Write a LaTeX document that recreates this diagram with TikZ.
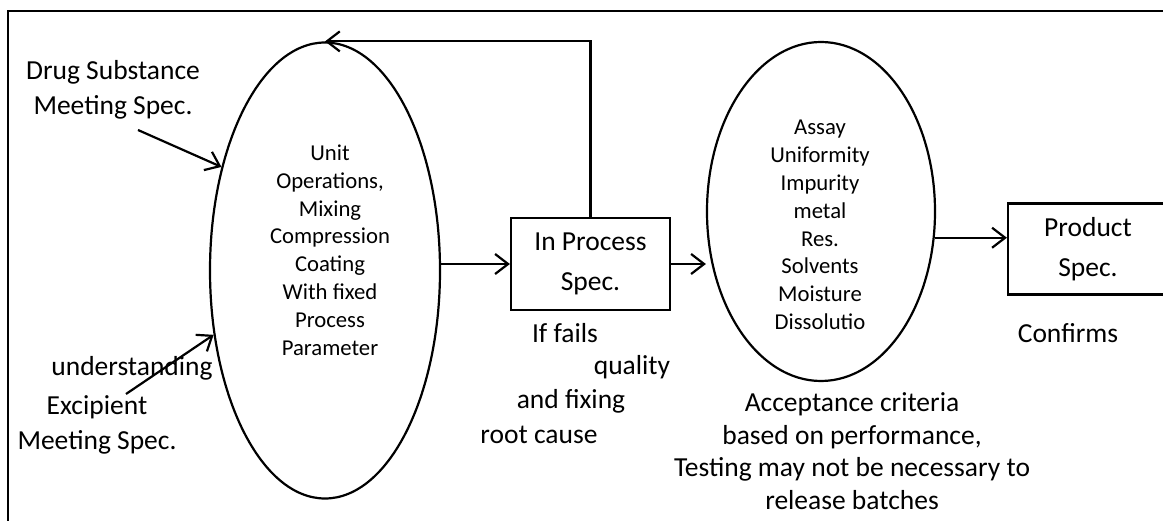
\documentclass[tikz,border=0pt]{standalone}
\usepackage{fontspec}
\setmainfont{Carlito}
\usetikzlibrary{shapes.geometric, arrows.meta, positioning}

\begin{document}
\begin{tikzpicture}[x=1pt, y=-1pt, oval/.style={
        ellipse,
        draw=black,
        line width=2.2pt
    }, spec/.style={
        rectangle,
        draw=black,
        line width=2.2pt,
        align=center,
        font=\fontsize{27.5}{40}\selectfont
    }, label/.style={
        align=center,
        inner sep=0pt,
        font=\fontsize{27.5}{35}\selectfont
    }, small/.style={
        align=center,
        inner sep=0pt,
        font=\fontsize{22.7}{27.8}\selectfont
    }, arrow/.style={
        line width=2.2pt, -{Straight Barb[length=13pt,width=20pt]}
    }]
    \useasboundingbox (0,0) rectangle (1163,521);
    \clip (0,0) rectangle (1163,521);
    \draw [line width=2.6pt] (8,522) -- (8,11) -- (1164,11);

    \node (unitops) [oval, minimum width=230pt, minimum height=456pt] at (325,270.5) {};
    \node (unitopstext) [small] at (330,250) {Unit\\Operations,\\Mixing\\Compression\\Coating\\With fixed\\Process\\Parameter};
    \node (inproc) [spec, minimum width=159pt, minimum height=92pt] at (590.5,264) {In Process\\Spec.};
    \node (assay) [oval, minimum width=228pt, minimum height=339pt] at (821,211.5) {};
    \node (assaytext) [small] at (820,225) {Assay\\Uniformity\\Impurity\\metal\\Res.\\Solvents\\Moisture\\Dissolutio};
    \node (product) [spec, minimum width=160pt, minimum height=91pt] at (1088,249) {Product\\Spec.};

    \node (drug) [label] at (113,90) {Drug Substance\\Meeting Spec.};
    \node (understanding) [label] at (132,368) {understanding};
    \node (excipient) [label] at (97,425) {Excipient\\Meeting Spec.};
    \node (iffails) [label] at (565,333) {If fails};
    \node (quality) [label] at (632,367) {quality};
    \node (fixing) [label] at (571,401) {and fixing};
    \node (rootcause) [label] at (539,435) {root cause};
    \node (accept) [label, font=\fontsize{27.5}{32.7}\selectfont] at (852,451) {Acceptance criteria\\based on performance,\\Testing may not be necessary to\\release batches};
    \node (confirms) [label] at (1068,333) {Confirms};

    \coordinate (drugtail) at (138,130);
    \coordinate (exctail) at (126,394);
    \draw [arrow] (drugtail) -- (unitops.135);
    \draw [arrow] (exctail) -- (unitops.210);
    \draw [arrow] (inproc.west -| unitops.east) -- (inproc.west);
    \draw [arrow] (inproc.north) |- (unitops.north);
    \draw [arrow] (inproc.east) -- (inproc.east -| assay.west);
    \draw [arrow] (assay.-13) -- (assay.-13 -| product.west);

\end{tikzpicture}
\end{document}
